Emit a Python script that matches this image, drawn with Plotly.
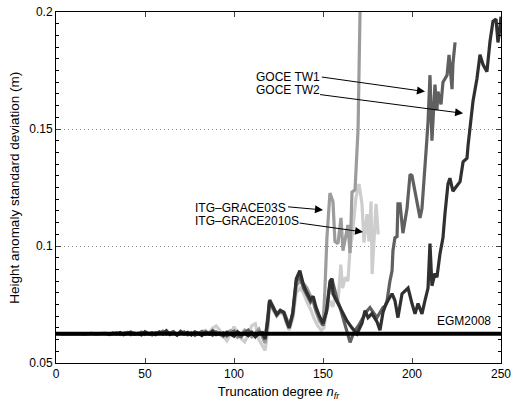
import plotly.graph_objects as go

# ---------------- data ----------------
flat_n = list(range(2, 116, 2))  # degrees 2..114

tw2_flat = [0.0625, 0.0626, 0.0624, 0.0625, 0.0626, 0.0625, 0.0624, 0.0626, 0.0625, 0.0627, 0.0624, 0.0626, 0.0625, 0.0627,
            0.0622, 0.0628, 0.0624, 0.0630, 0.0621, 0.0627, 0.0632, 0.0623, 0.0626, 0.0620, 0.0634, 0.0625, 0.0629, 0.0621, 0.0633, 0.0624,
            0.0638, 0.0622, 0.0630, 0.0619, 0.0635, 0.0624, 0.0631, 0.0620, 0.0633, 0.0626, 0.0617, 0.0632, 0.0624, 0.0636, 0.0621,
            0.0628, 0.0618, 0.0632, 0.0625, 0.0615, 0.0634, 0.0622, 0.0627, 0.0617, 0.0631, 0.0612, 0.0626]
tw1_flat = [0.0625, 0.0624, 0.0626, 0.0625, 0.0624, 0.0626, 0.0625, 0.0623, 0.0626, 0.0625, 0.0627, 0.0624, 0.0626, 0.0625,
            0.0627, 0.0623, 0.0629, 0.0622, 0.0628, 0.0631, 0.0621, 0.0628, 0.0624, 0.0632, 0.0622, 0.0627, 0.0620, 0.0630, 0.0626, 0.0636,
            0.0624, 0.0629, 0.0634, 0.0620, 0.0628, 0.0633, 0.0621, 0.0630, 0.0618, 0.0627, 0.0635, 0.0622, 0.0629, 0.0619, 0.0633,
            0.0624, 0.0630, 0.0616, 0.0628, 0.0636, 0.0620, 0.0612, 0.0630, 0.0640, 0.0622, 0.0618, 0.0632]
g03_flat = [0.0625, 0.0625, 0.0626, 0.0625, 0.0624, 0.0625, 0.0626, 0.0625, 0.0624, 0.0625, 0.0626, 0.0625, 0.0624, 0.0626,
            0.0624, 0.0627, 0.0625, 0.0628, 0.0623, 0.0626, 0.0629, 0.0624, 0.0627, 0.0622, 0.0630, 0.0625, 0.0628, 0.0623, 0.0631, 0.0625,
            0.0633, 0.0624, 0.0629, 0.0621, 0.0632, 0.0625, 0.0629, 0.0622, 0.0631, 0.0627, 0.0620, 0.0634, 0.0628, 0.0640, 0.0630,
            0.0622, 0.0612, 0.0628, 0.0638, 0.0625, 0.0610, 0.0622, 0.0640, 0.0630, 0.0612, 0.0628, 0.0645]
g10_flat = [0.0625, 0.0624, 0.0625, 0.0626, 0.0625, 0.0625, 0.0624, 0.0625, 0.0626, 0.0625, 0.0624, 0.0626, 0.0625, 0.0624,
            0.0625, 0.0626, 0.0624, 0.0627, 0.0625, 0.0623, 0.0628, 0.0625, 0.0627, 0.0624, 0.0629, 0.0626, 0.0624, 0.0628, 0.0625, 0.0627,
            0.0630, 0.0626, 0.0628, 0.0624, 0.0629, 0.0626, 0.0631, 0.0624, 0.0630, 0.0627, 0.0634, 0.0640, 0.0628, 0.0650, 0.0658,
            0.0640, 0.0615, 0.0595, 0.0625, 0.0655, 0.0630, 0.0605, 0.0590, 0.0620, 0.0660, 0.0668, 0.0600]

tw1_n = [116, 117.5, 119, 120, 122, 124, 126, 128, 129.5, 131, 133, 135, 137, 139, 141, 143, 144.5, 146, 148, 150,
         152, 154, 155, 156.5, 158, 159.6, 161, 162.4, 164, 165.2, 166.5, 168, 170, 172.5, 174.5, 176.4, 178.5, 180.3, 182, 183.7,
         185, 186, 187.6, 188.8, 189.3, 190.4, 191.6, 192.1, 193.3, 194.9, 197.2, 198.9, 200, 201.7, 203, 204.5, 205.6, 207.3, 208.4, 209,
         210.1, 211.2, 211.8, 212.9, 214, 214.6, 216.3, 217.4, 219.7, 220.8, 222.5, 223, 224.2]
tw1_v = [0.0620, 0.0600, 0.0690, 0.0770, 0.0740, 0.0710, 0.0725, 0.0718, 0.0690, 0.0655, 0.0710, 0.0850, 0.0870, 0.0820, 0.0790, 0.0760, 0.0775, 0.0730, 0.0695, 0.0660,
         0.0725, 0.0845, 0.0860, 0.0810, 0.0770, 0.0737, 0.0700, 0.0670, 0.0620, 0.0588, 0.0615, 0.0640, 0.0660, 0.0694, 0.0720, 0.0737, 0.0715, 0.0694, 0.0715, 0.0737,
         0.0745, 0.0767, 0.0850, 0.0894, 0.0980, 0.1035, 0.1040, 0.1180, 0.1180, 0.1055, 0.1160, 0.1306, 0.1300, 0.1234, 0.1190, 0.1120, 0.1160, 0.1320, 0.1460, 0.1530,
         0.1730, 0.1450, 0.1545, 0.1690, 0.1580, 0.1660, 0.1605, 0.1700, 0.1730, 0.1817, 0.1670, 0.1780, 0.1870]

tw2_n = [116, 117.5, 119, 120, 122, 124, 126, 128, 129.5, 131, 133, 135, 137, 139, 141, 143, 144.5, 146, 148, 150,
         152, 154, 155, 155.6, 158.4, 161.2, 163.5, 166.3, 169.1, 171.9, 173.6, 175.3, 177.5, 180.3, 182, 183.7, 185, 186.5, 188.8, 190.4,
         192.1, 194.4, 196.1, 197.8, 200, 201.7, 203.4, 205.6, 207.3, 209, 210.1, 211.2, 212.9, 214, 215.7, 217.4, 218.5, 220.2, 221.3, 223,
         224.5, 225.8, 227, 228.7, 230.9, 231.5, 232.6, 234.3, 236.5, 238.2, 239.9, 242.1, 243.8, 245.5, 247.2, 247.8, 248.3, 249.4, 250]
tw2_v = [0.0630, 0.0605, 0.0680, 0.0767, 0.0735, 0.0705, 0.0725, 0.0715, 0.0680, 0.0650, 0.0715, 0.0860, 0.0895, 0.0835, 0.0800, 0.0770, 0.0785, 0.0740, 0.0700, 0.0670,
         0.0720, 0.0850, 0.0860, 0.0796, 0.0754, 0.0716, 0.0680, 0.0650, 0.0625, 0.0670, 0.0724, 0.0694, 0.0711, 0.0677, 0.0640, 0.0716, 0.0745, 0.0767, 0.0796, 0.0767,
         0.0694, 0.0796, 0.0810, 0.0820, 0.0754, 0.0710, 0.0754, 0.0710, 0.0767, 0.0820, 0.1010, 0.0830, 0.0883, 0.0866, 0.0966, 0.1035, 0.1136, 0.1265, 0.1290, 0.1234,
         0.1250, 0.1265, 0.1275, 0.1360, 0.1375, 0.1430, 0.1498, 0.1620, 0.1716, 0.1817, 0.1775, 0.1745, 0.1873, 0.1960, 0.1970, 0.1900, 0.1870, 0.1930, 0.1980]

g03_n = [116, 117.5, 119, 120, 122, 124, 126, 128, 129.5, 131, 133, 135, 137, 139, 141, 143, 144.5, 146, 148, 150,
         151, 152.2, 153.9, 155.6, 156.7, 158.4, 160.1, 161.2, 162.9, 164, 165.2, 166.3, 168, 169.7, 170.8, 172]
g03_v = [0.0610, 0.0585, 0.0670, 0.0765, 0.0730, 0.0705, 0.0720, 0.0712, 0.0675, 0.0648, 0.0700, 0.0830, 0.0850, 0.0840, 0.0820, 0.0790, 0.0760, 0.0720, 0.0680, 0.0660,
         0.0800, 0.1035, 0.1226, 0.1190, 0.1020, 0.1010, 0.1120, 0.0980, 0.1050, 0.1090, 0.0970, 0.1230, 0.1240, 0.1500, 0.2000, 0.3000]

g10_n = [116, 117.5, 119, 120, 122, 124, 126, 128, 129.5, 131, 133, 135, 137, 139, 141, 143, 145, 147, 149, 150.5,
         152, 154, 155.5, 157, 158.5, 160, 161, 162.5, 164, 165.2, 166.3, 168.5, 170.2, 171.9, 173, 174.7, 175.8, 177, 177.6, 179.8, 181]
g10_v = [0.0570, 0.0554, 0.0640, 0.0760, 0.0725, 0.0700, 0.0718, 0.0705, 0.0668, 0.0640, 0.0690, 0.0800, 0.0820, 0.0800, 0.0760, 0.0730, 0.0690, 0.0660, 0.0640, 0.0650,
         0.0720, 0.0765, 0.0740, 0.0790, 0.0770, 0.0920, 0.0820, 0.0866, 0.0850, 0.0990, 0.1035, 0.1205, 0.1265, 0.1180, 0.1015, 0.1136, 0.1020, 0.1190, 0.0880, 0.1180, 0.1050]

egm_n = [0, 250]
egm_v = [0.0625, 0.0625]

y_ticks = [0.05, 0.1, 0.15, 0.2]
y_ticklabels = ["0.05", "0.1", "0.15", "0.2"]
x_ticks = [0, 50, 100, 150, 200, 250]

# annotations: (label, text-left n, text y, arrow tail n, tail y, head n, head y)
labels = [
    ("GOCE TW1", 111.0, 0.1723, 148.5, 0.1723, 207.3, 0.1660),
    ("GOCE TW2", 111.0, 0.1665, 147.5, 0.1648, 228.7, 0.1567),
    ("ITG–GRACE03S", 77.0, 0.1163, 129.5, 0.1168, 150.0, 0.1154),
    ("ITG–GRACE2010S", 77.0, 0.1105, 136.0, 0.1099, 172.5, 0.1060),
]

# ---------------- figure ----------------
FONT = "Liberation Sans, Arial, Helvetica, sans-serif"
fig = go.Figure()

series = [
    ("ITG-GRACE2010S", flat_n + g10_n, g10_flat + g10_v, "#cdcdcd"),
    ("ITG-GRACE03S", flat_n + g03_n, g03_flat + g03_v, "#9c9c9c"),
    ("GOCE TW1", flat_n + tw1_n, tw1_flat + tw1_v, "#606060"),
    ("GOCE TW2", flat_n + tw2_n, tw2_flat + tw2_v, "#303030"),
]
for name, xs, ys, col in series:
    fig.add_trace(go.Scatter(x=xs, y=ys, mode="lines", name=name,
                             line=dict(color=col, width=3.2), showlegend=False))

fig.add_trace(go.Scatter(x=egm_n, y=egm_v, mode="lines", name="EGM2008",
                         line=dict(color="black", width=4), showlegend=False))

annos = []
for text, tx, ty, axn, ayv, hx, hy in labels:
    annos.append(dict(x=tx, y=ty, xref="x", yref="y", text=text, showarrow=False,
                      xanchor="left", yanchor="middle",
                      font=dict(family=FONT, size=12, color="black")))
    annos.append(dict(x=hx, y=hy, xref="x", yref="y", ax=axn, ay=ayv, axref="x", ayref="y",
                      text="", showarrow=True, arrowhead=2, arrowsize=1.6, arrowwidth=1,
                      arrowcolor="black"))
annos.append(dict(x=212.9, y=0.0679, xref="x", yref="y", text="EGM2008", showarrow=False,
                  xanchor="left", yanchor="middle", font=dict(family=FONT, size=12, color="black")))
# y-axis title placed as rotated annotation
annos.append(dict(x=-0.094, y=0.5, xref="paper", yref="paper", text="Height anomaly standard deviation (m)",
                  textangle=-90, showarrow=False, xanchor="center", yanchor="middle",
                  font=dict(family=FONT, size=13.5, color="black")))

fig.update_layout(
    width=511, height=401,
    margin=dict(l=56, r=10, t=12, b=38, autoexpand=False),
    paper_bgcolor="white", plot_bgcolor="white",
    font=dict(family=FONT, size=12, color="black"),
    annotations=annos,
)
fig.update_xaxes(range=[0, 250], tickvals=x_ticks, ticks="inside", ticklen=5,
                 showline=True, linecolor="black", linewidth=1, mirror="ticks",
                 showgrid=False, zeroline=False, automargin=False,
                 tickfont=dict(size=12), ticklabeloverflow="allow",
                 title=dict(text="Truncation degree <i>n</i><sub><i>fr</i></sub>",
                            font=dict(size=13)))
fig.update_yaxes(range=[0.05, 0.2], tickvals=y_ticks, ticktext=y_ticklabels,
                 ticks="inside", ticklen=5,
                 minor=dict(dtick=0.005, ticks="inside", ticklen=3, tickcolor="black", showgrid=False),
                 showline=True, linecolor="black", linewidth=1, mirror="ticks",
                 showgrid=True, gridcolor="#888888", griddash="1px,3px", gridwidth=1,
                 zeroline=False, automargin=False, tickfont=dict(size=12))

fig.write_html("out.html", config={"displayModeBar": False},
               post_script="document.body.style.margin='0';document.body.style.overflow='hidden';")
